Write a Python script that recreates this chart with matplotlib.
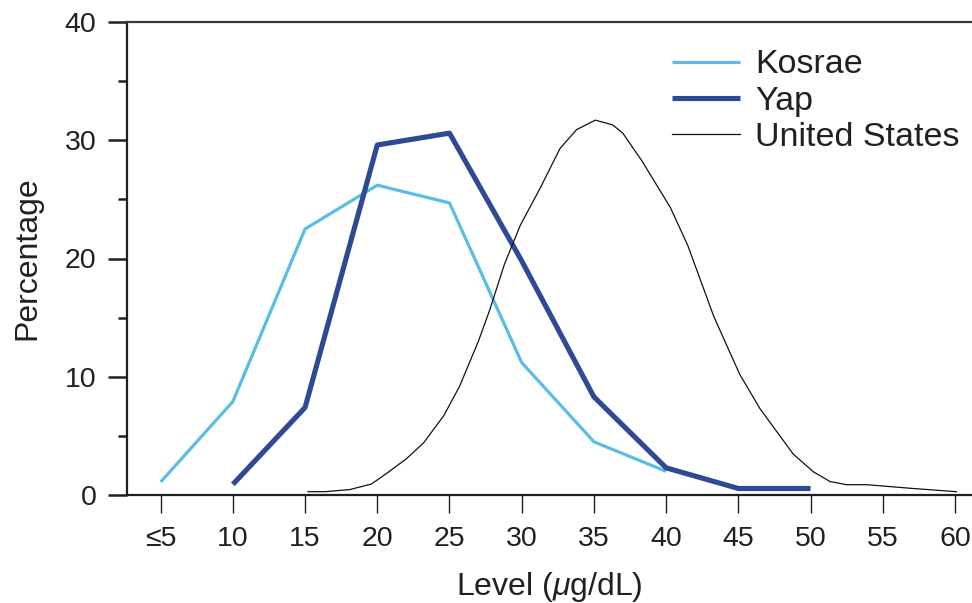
import numpy as np
import matplotlib
matplotlib.use("Agg")
import matplotlib.pyplot as plt
from matplotlib.ticker import MultipleLocator

# 데이터
levels = [5, 10, 15, 20, 25, 30, 35, 40, 45, 50]
kosrae = [1.1, 7.9, 22.5, 26.2, 24.7, 11.2, 4.5, 2.0]
yap_x = [10, 15, 20, 25, 30, 35, 40, 45, 50]
yap = [0.9, 7.4, 29.6, 30.6, 19.8, 8.3, 2.3, 0.55, 0.55]

us_x = [15.2, 16.4, 18.1, 19.6, 20.65, 22.0, 23.2, 24.6, 25.7, 27.0, 27.8,
        28.8, 29.9, 31.3, 32.65, 33.8, 35.1, 36.3, 37.0, 38.3, 40.3, 41.5,
        43.3, 45.1, 46.5, 48.8, 50.2, 51.35, 52.5, 53.9, 57.1, 60.1]
us = [0.28, 0.28, 0.46, 0.93, 1.83, 3.05, 4.4, 6.7, 9.2, 13.0, 15.7,
      19.5, 22.8, 26.0, 29.3, 30.9, 31.7, 31.3, 30.6, 28.3, 24.3, 21.1,
      15.1, 10.2, 7.3, 3.46, 1.96, 1.14, 0.87, 0.87, 0.55, 0.28]

xticks = [5, 10, 15, 20, 25, 30, 35, 40, 45, 50, 55, 60]
xticklabels = ["\u22645", "10", "15", "20", "25", "30", "35", "40", "45", "50", "55", "60"]

TEXT = "#231f20"
plt.rcParams["font.family"] = ["Liberation Sans", "DejaVu Sans"]
plt.rcParams["mathtext.fontset"] = "custom"
plt.rcParams["mathtext.rm"] = "Liberation Sans"
plt.rcParams["mathtext.it"] = "Liberation Sans:italic"

fig = plt.figure(figsize=(9.72, 6.03), dpi=100)
ax = fig.add_axes([127 / 972, 1 - 495 / 603, 1 - 127 / 972, (495 - 22) / 603])

ax.plot(levels[:len(kosrae)], kosrae, color="#5bbde5", lw=2.3, label="Kosrae",
        solid_capstyle="butt")
ax.plot(yap_x, yap, color="#2e4a94", lw=3.7, label="Yap", solid_capstyle="butt")
ax.plot(us_x, us, color="#111111", lw=0.9, label="United States")

ax.set_xlim(2.67, 61.18)
ax.set_ylim(0, 40)
ax.set_xticks(xticks)
ax.set_xticklabels(xticklabels)
ax.yaxis.set_major_locator(MultipleLocator(10))
ax.yaxis.set_minor_locator(MultipleLocator(5))

ax.tick_params(axis="y", which="major", direction="out", length=14, width=1.8,
               labelsize=20.5, colors=TEXT, pad=8)
ax.tick_params(axis="y", which="minor", direction="out", length=6.5, width=1.8,
               colors=TEXT)
ax.tick_params(axis="x", direction="out", length=13, width=1.0, labelsize=20.5,
               colors=TEXT, pad=9)

for s in ["left", "bottom"]:
    ax.spines[s].set_linewidth(1.6)
    ax.spines[s].set_color(TEXT)
ax.spines["top"].set_linewidth(1.6)
ax.spines["top"].set_color("#3a3a3a")
ax.spines["right"].set_visible(False)

ax.set_xlabel("Level ($\\mathit{\\mu}$g/dL)", fontsize=23, color=TEXT, labelpad=13)
ax.set_ylabel("Percentage", fontsize=23, color=TEXT, labelpad=16)

leg = ax.legend(loc="upper left", bbox_to_anchor=(0.645, 0.942), frameon=False,
                fontsize=24.5, handlelength=2.0, handletextpad=0.45,
                labelspacing=0.15, borderpad=0, borderaxespad=0)
for t in leg.get_texts():
    t.set_color(TEXT)

fig.savefig("out.png", dpi=100)
